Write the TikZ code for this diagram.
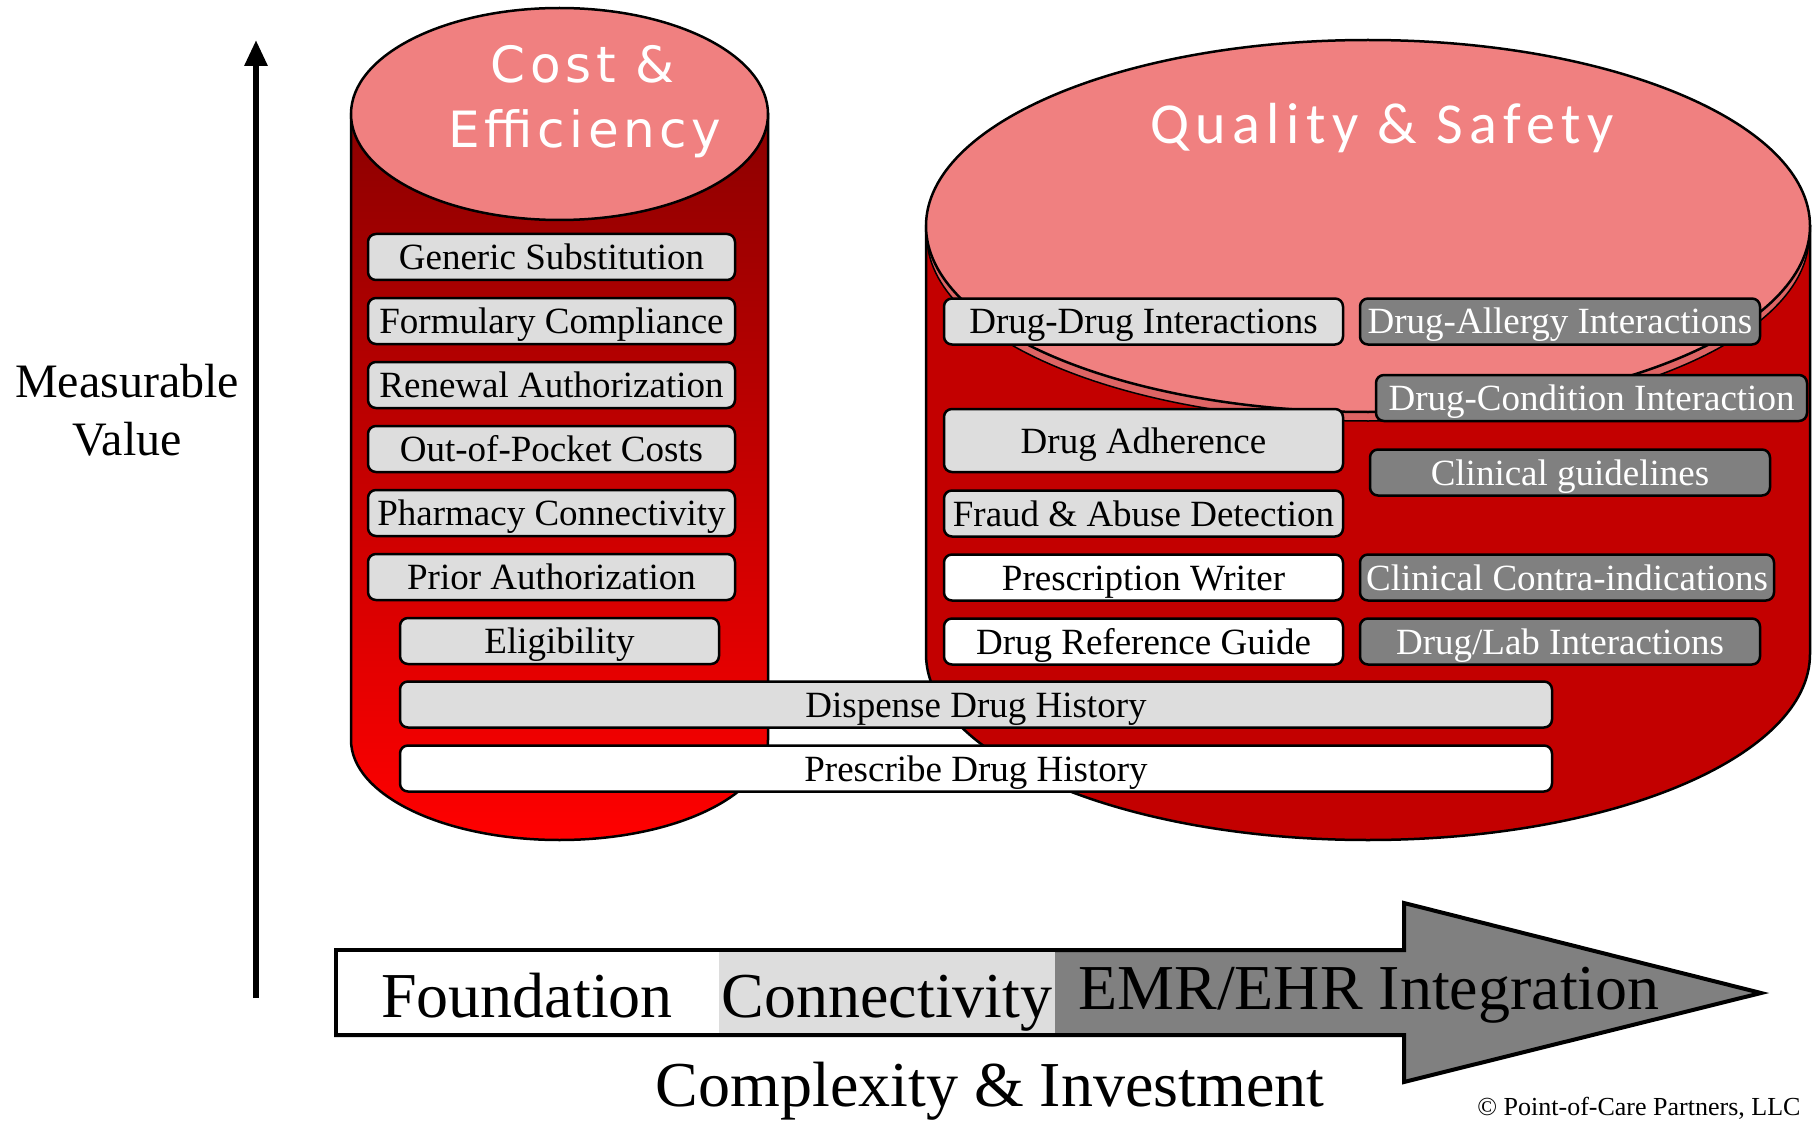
\documentclass[tikz,border=0pt]{standalone}
\usepackage{fontspec}
\setmainfont{Liberation Serif}
\newfontfamily\costfont[LetterSpace=9]{DejaVu Sans}
\newfontfamily\qualfont[LetterSpace=11]{Carlito}
\usetikzlibrary{positioning,arrows.meta}
\definecolor{boxlight}{RGB}{221,221,221}
\definecolor{boxdark}{RGB}{128,128,128}
\definecolor{lidpink}{RGB}{240,128,128}
\definecolor{rimpink}{RGB}{222,100,100}
\definecolor{bodydark}{RGB}{140,0,0}
\definecolor{bodybright}{RGB}{255,0,0}
\definecolor{bodyred}{RGB}{195,0,0}

\begin{document}
\begin{tikzpicture}[x=1pt,y=-1pt,node distance=64pt,on grid,
    item/.style={draw,line width=2.5pt,rounded corners=8pt,fill=boxlight,
      minimum height=46pt,inner sep=0pt,text height=25pt,text depth=0pt,
      font=\fontsize{37}{40}\selectfont},
    itemw/.style={item,fill=white},
    itemd/.style={item,fill=boxdark,text=white},
    bigtext/.style={anchor=base,font=\fontsize{64}{70}\selectfont}]
    \useasboundingbox (0,0) rectangle (1816,1126);

    \draw[line width=2.5pt,top color=bodydark,bottom color=bodybright]
      (351,114) -- (351,740) arc[start angle=180,end angle=360,x radius=208.5pt,y radius=100pt]
      -- (768,114) -- cycle;
    \draw[line width=2.5pt,fill=lidpink] (559.5,114) ellipse [x radius=208.5pt,y radius=106pt];

    \draw[line width=2.5pt,fill=bodyred]
      (926,226) -- (926,654) arc[start angle=180,end angle=360,x radius=442pt,y radius=186pt]
      -- (1810,226) -- cycle;
    \draw[line width=1.5pt,fill=rimpink] (1368,236) ellipse [x radius=441pt,y radius=185pt];
    \draw[line width=2.5pt,fill=lidpink] (1368,226) ellipse [x radius=442pt,y radius=186pt];

    \node[anchor=base,text=white,font=\costfont\fontsize{50}{56}\selectfont] (cost) at (583,83) {Cost \&};
    \node[anchor=base,text=white,font=\costfont\fontsize{50}{56}\selectfont] (eff)  at (585,148) {Efficiency};
    \node[anchor=base,text=white,font=\qualfont\fontsize{58}{64}\selectfont] (quality) at (1382,144) {Quality \& Safety};

    \node[item,minimum width=367pt]  (generic)     at (551.5,257)          {Generic Substitution};
    \node[item,minimum width=367pt]  (formulary)   [below=of generic]      {Formulary Compliance};
    \node[item,minimum width=367pt]  (renewal)     [below=of formulary]    {Renewal Authorization};
    \node[item,minimum width=367pt]  (outofpocket) [below=of renewal]      {Out-of-Pocket Costs};
    \node[item,minimum width=367pt]  (pharmacy)    [below=of outofpocket]  {Pharmacy Connectivity};
    \node[item,minimum width=367pt]  (prior)       [below=of pharmacy]     {Prior Authorization};
    \node[item,minimum width=319pt]  (eligibility) [below=of prior,xshift=8pt] {Eligibility};

    \node[item,minimum width=399pt]  (drugdrug)    at (1143.5,321.5)       {Drug-Drug Interactions};
    \node[item,minimum width=399pt,minimum height=63pt] (adherence) at (1143.5,440.5) {Drug Adherence};
    \node[item,minimum width=399pt]  (fraud)       at (1143.5,513.5)       {Fraud \& Abuse Detection};
    \node[itemw,minimum width=399pt] (writer)      [below=of fraud]        {Prescription Writer};
    \node[itemw,minimum width=399pt] (refguide)    [below=of writer]       {Drug Reference Guide};

    \node[itemd,minimum width=400pt] (allergy)     at (1560,321.5)         {Drug-Allergy Interactions};
    \node[itemd,minimum width=431pt] (condition)   at (1591.5,398)         {Drug-Condition Interaction};
    \node[itemd,minimum width=400pt] (guidelines)  at (1570,472.5)         {Clinical guidelines};
    \node[itemd,minimum width=414pt] (contra)      at (1567,577.5)         {Clinical Contra-indications};
    \node[itemd,minimum width=400pt] (druglab)     [below=of contra,xshift=-7pt] {Drug/Lab Interactions};

    \node[item,minimum width=1152pt]  (dispense)   at (976,704.5)          {Dispense Drug History};
    \node[itemw,minimum width=1152pt] (prescribe)  [below=of dispense]     {Prescribe Drug History};

    \draw[line width=4pt,fill=boxdark] (336,950) -- (1404,950) -- (1404,903) -- (1761,993)
      -- (1404,1082) -- (1404,1035) -- (336,1035) -- cycle;
    \fill[white] (338,952) rectangle (719,1033);
    \fill[boxlight] (719,952) rectangle (1055,1033);

    \node[bigtext] (foundation)   at (527,1017)  {Foundation};
    \node[bigtext] (connectivity) at (887,1017)  {Connectivity};
    \node[bigtext] (emr)          at (1369,1009) {EMR/EHR Integration};
    \node[bigtext] (complexity)   at (990,1106)  {Complexity \& Investment};
    \node[anchor=base east,font=\fontsize{26}{28}\selectfont] (copyright) at (1804,1115) {© Point-of-Care Partners, LLC};

    \node[align=center,font=\fontsize{48}{58}\selectfont] (measurable) at (127,410) {Measurable\\Value};
    \coordinate (vbase) at (256,998);
    \coordinate (vtip)  at (256,40);
    \draw[line width=6pt,-{Triangle[width=22pt,length=26pt]}] (vbase) -- (vtip);
\end{tikzpicture}
\end{document}
